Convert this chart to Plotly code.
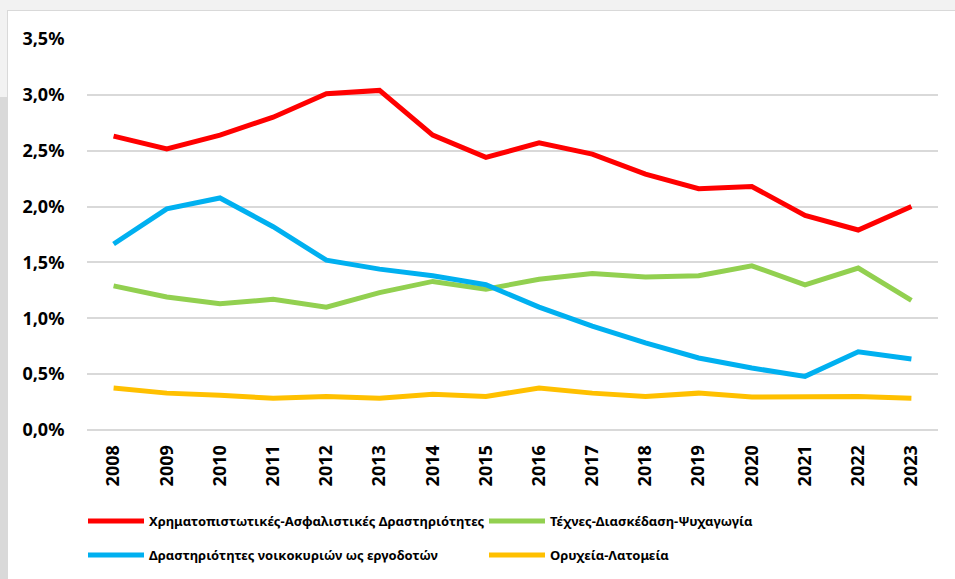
import plotly.graph_objects as go

years = [str(y) for y in range(2008, 2024)]

finance = [2.63, 2.515, 2.64, 2.80, 3.01, 3.04, 2.64, 2.44, 2.57, 2.47, 2.29, 2.16, 2.18, 1.92, 1.79, 2.00]
arts = [1.29, 1.19, 1.13, 1.17, 1.10, 1.23, 1.33, 1.26, 1.35, 1.40, 1.37, 1.38, 1.47, 1.30, 1.45, 1.16]
households = [1.665, 1.98, 2.077, 1.82, 1.52, 1.44, 1.38, 1.30, 1.10, 0.93, 0.78, 0.645, 0.555, 0.48, 0.70, 0.635]
mining = [0.376, 0.33, 0.31, 0.285, 0.30, 0.285, 0.32, 0.30, 0.376, 0.33, 0.30, 0.33, 0.295, 0.295, 0.30, 0.285]

names = ["Χρηματοπιστωτικές-Ασφαλιστικές Δραστηριότητες",
         "Τέχνες-Διασκέδαση-Ψυχαγωγία",
         "Δραστηριότητες νοικοκυριών ως εργοδοτών",
         "Ορυχεία-Λατομεία"]
colors = ["#ff0000", "#92d050", "#00b0f0", "#ffc000"]
legend_ids = ["legend", "legend", "legend2", "legend2"]

W, H = 955, 579
L, R, T, B = 87, 17, 39, 149
pw, ph = W - L - R, H - T - B


def px(x):
    return (x - L) / pw


def py(y):
    return (H - B - y) / ph


fig = go.Figure()
for name, vals, col, lg in zip(names, [finance, arts, households, mining], colors, legend_ids):
    fig.add_trace(go.Scatter(
        x=years, y=[v / 100 for v in vals],
        mode="lines", name=name, legend=lg,
        line=dict(color=col, width=5),
    ))

# window-like background strips
shapes = [
    dict(type="rect", xref="paper", yref="paper", x0=px(0), x1=px(W), y0=py(0), y1=py(10),
         fillcolor="#f2f2f2", line_width=0, layer="below"),
    dict(type="rect", xref="paper", yref="paper", x0=px(0), x1=px(7), y0=py(10), y1=py(97),
         fillcolor="#f2f2f2", line_width=0, layer="below"),
    dict(type="rect", xref="paper", yref="paper", x0=px(0), x1=px(7), y0=py(97), y1=py(H),
         fillcolor="#d9d9d9", line_width=0, layer="below"),
    dict(type="line", xref="paper", yref="paper", x0=px(7), x1=px(W), y0=py(10.5), y1=py(10.5),
         line=dict(color="#d9d9d9", width=1), layer="below"),
    dict(type="line", xref="paper", yref="paper", x0=px(7.5), x1=px(7.5), y0=py(10.5), y1=py(H),
         line=dict(color="#d9d9d9", width=1), layer="below"),
]

legend_style = dict(
    orientation="h", xanchor="left", yanchor="middle",
    entrywidth=330, itemwidth=56, bgcolor="rgba(0,0,0,0)",
    font=dict(size=13, weight="bold"),
)

fig.update_layout(
    width=W, height=H,
    margin=dict(l=L, r=R, t=T, b=B, autoexpand=False),
    paper_bgcolor="white", plot_bgcolor="white",
    separators=",.",
    font=dict(family="Noto Sans", color="black"),
    shapes=shapes,
    xaxis=dict(
        type="category", range=[-0.5, 15.5], tickangle=-90,
        showgrid=False, showline=False, automargin=False,
        ticks="outside", ticklen=7, tickcolor="white",
        tickfont=dict(size=18, weight="bold"),
    ),
    yaxis=dict(
        range=[0, 0.035], dtick=0.005, tickformat=".1%", automargin=False,
        showgrid=True, gridcolor="#d9d9d9", gridwidth=1.5,
        zeroline=True, zerolinecolor="#d9d9d9", zerolinewidth=1.5,
        tickfont=dict(size=18, weight="bold"), ticks="outside", ticklen=18, tickcolor="white",
    ),
    legend=dict(x=px(83), y=py(521), **legend_style),
    legend2=dict(x=px(83), y=py(555), **legend_style),
    showlegend=True,
)

fig.write_html("out.html", config={"displayModeBar": False},
               post_script="document.body.style.margin='0';")
